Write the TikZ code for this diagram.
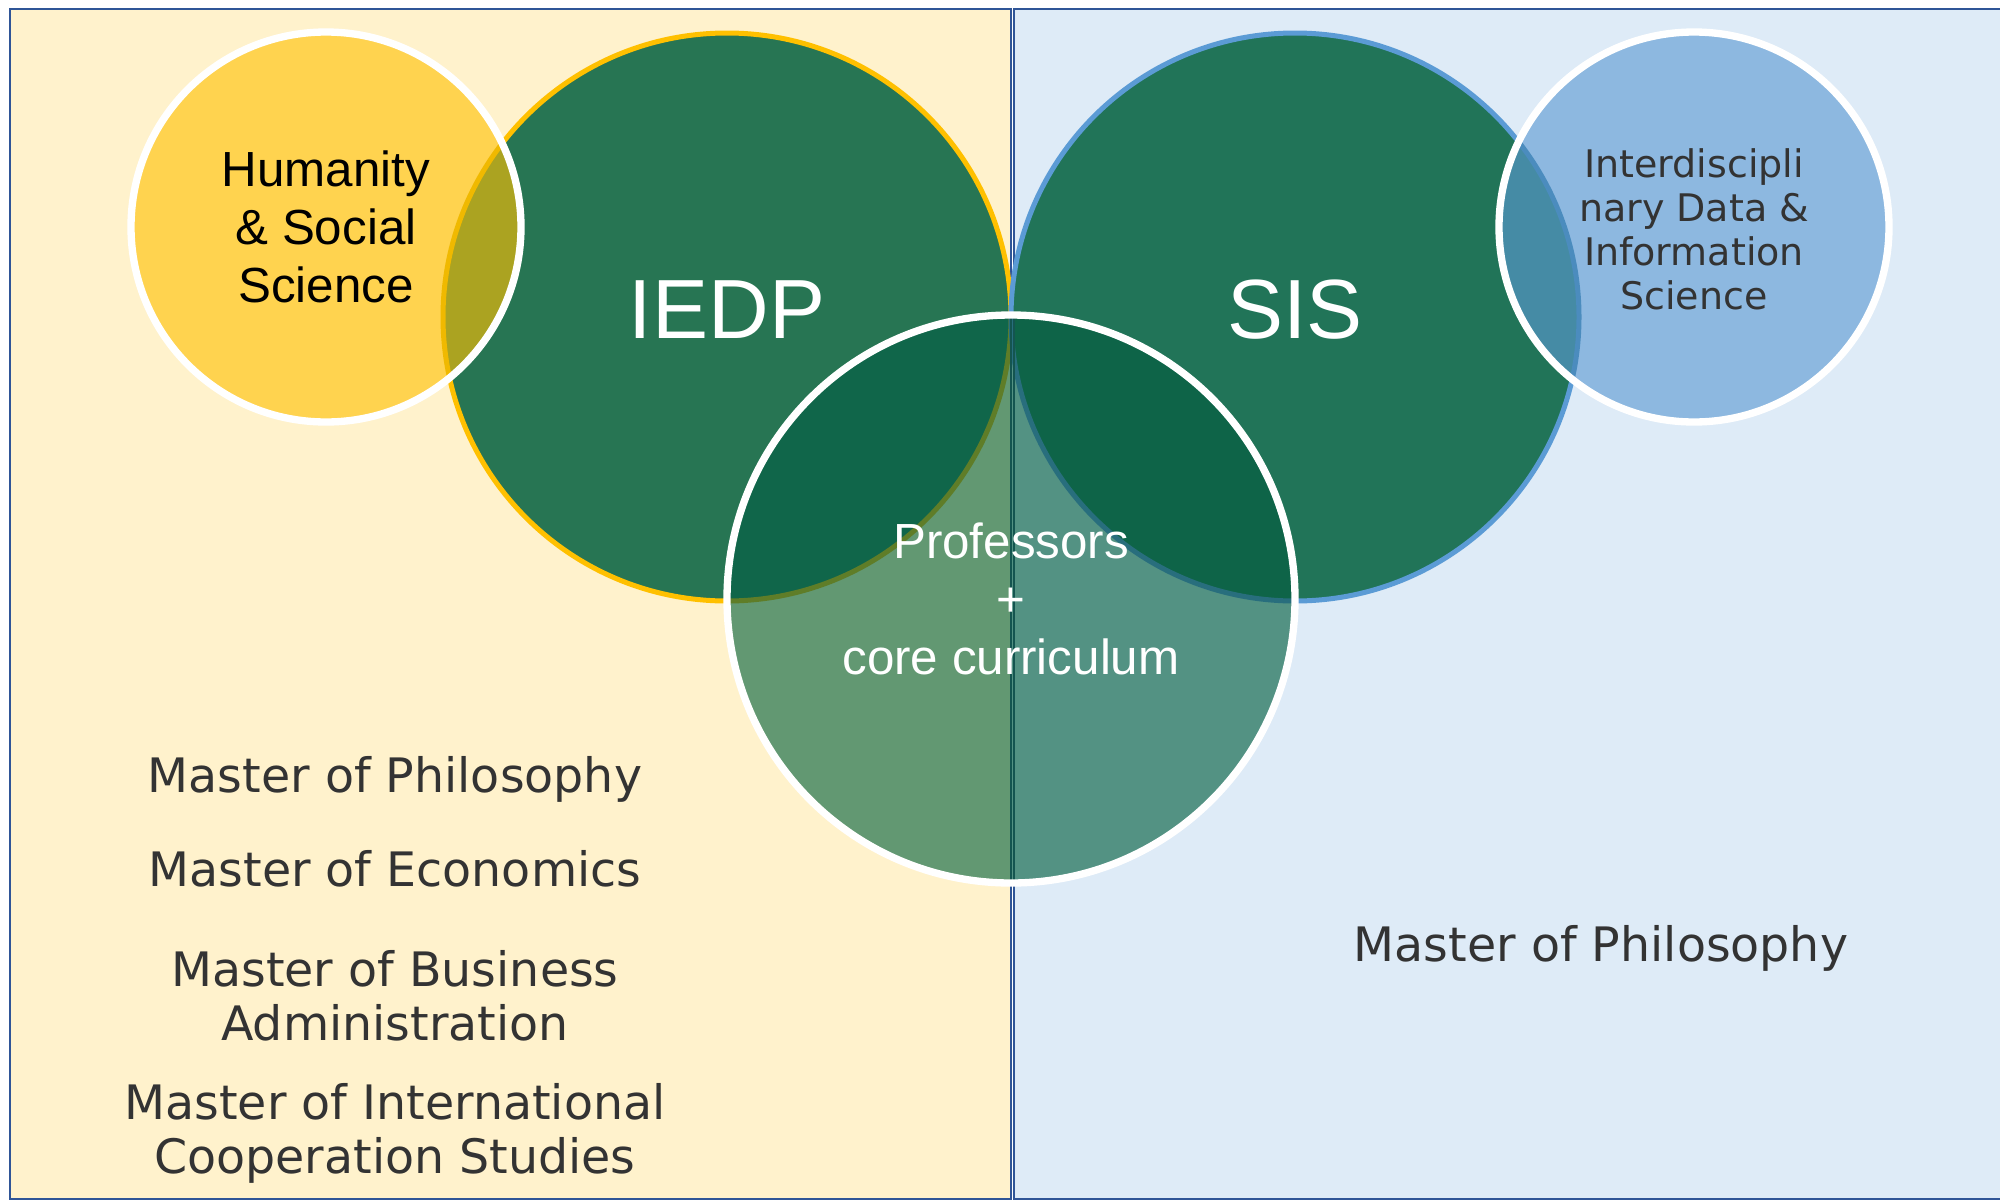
\documentclass[tikz,border=0pt]{standalone}
\usepackage{fontspec}
\setmainfont{DejaVu Sans}
\newfontfamily\arialfont{Liberation Sans}
\begin{document}
\begin{tikzpicture}[x=0.75pt,y=0.75pt,yscale=-1,xscale=1,
  degree/.style={font=\fontsize{35.6}{40.5}\selectfont, color={rgb, 255:red, 51; green, 51; blue, 51 }, align=center, inner sep=0.75pt},
  ring/.style={draw={rgb, 255:red, 255; green, 255; blue, 255 }, line width=5.5},
  whitetext/.style={font=\arialfont\fontsize{37}{43.5}\selectfont, color={rgb, 255:red, 255; green, 255; blue, 255 }, align=center, inner sep=0.75pt},
  bigtext/.style={font=\arialfont\fontsize{63}{70}\selectfont, color={rgb, 255:red, 255; green, 255; blue, 255 }, inner sep=0.75pt}]
\useasboundingbox (0,0) rectangle (2000,1200);

%Shape: Rectangle [id:left]
\draw  [color={rgb, 255:red, 47; green, 85; blue, 151 }  ,draw opacity=1 ][fill={rgb, 255:red, 255; green, 242; blue, 204 }  ,fill opacity=1 ][line width=1.2]  (10,9) rectangle (1011,1199) ;
%Shape: Rectangle [id:right]
\draw  [color={rgb, 255:red, 47; green, 85; blue, 151 }  ,draw opacity=1 ][fill={rgb, 255:red, 222; green, 235; blue, 247 }  ,fill opacity=1 ][line width=1.2]  (1014,9) rectangle (2006,1199) ;

%Shape: Circle [id:iedp]
\draw  [color={rgb, 255:red, 255; green, 192; blue, 0 }  ,draw opacity=1 ][fill={rgb, 255:red, 39; green, 117; blue, 83 }  ,fill opacity=1 ][line width=3.75]  (727,317) circle (284) ;
%Shape: Circle [id:sis]
\draw  [color={rgb, 255:red, 91; green, 155; blue, 213 }  ,draw opacity=1 ][fill={rgb, 255:red, 33; green, 116; blue, 88 }  ,fill opacity=1 ][line width=3.75]  (1295,317) circle (284) ;

%Shape: Circle [id:hss]
\fill [color={rgb, 255:red, 255; green, 211; blue, 79 }]  (326,227) circle (195) ;
\begin{scope}
\clip (326,227) circle (195) ;
\fill [color={rgb, 255:red, 171; green, 163; blue, 33 }]  (727,317) circle (284) ;
\draw [color={rgb, 255:red, 240; green, 185; blue, 0 }  ,line width=3.75]  (727,317) circle (284) ;
\end{scope}
\draw [ring]  (326,227) circle (195) ;

%Shape: Circle [id:ids]
\fill [color={rgb, 255:red, 141; green, 184; blue, 224 }]  (1694,227) circle (195) ;
\begin{scope}
\clip (1694,227) circle (195) ;
\fill [color={rgb, 255:red, 69; green, 139; blue, 165 }]  (1295,317) circle (284) ;
\draw [color={rgb, 255:red, 75; green, 140; blue, 190 }  ,line width=3.75]  (1295,317) circle (284) ;
\end{scope}
\draw [ring]  (1694,227) circle (195) ;

%Shape: Circle [id:core]
\begin{scope}
\clip (1011,599) circle (284) ;
\fill [color={rgb, 255:red, 98; green, 152; blue, 114 }]  (0,0) rectangle (1012,1200) ;
\fill [color={rgb, 255:red, 83; green, 146; blue, 131 }]  (1012,0) rectangle (2000,1200) ;
\fill [color={rgb, 255:red, 16; green, 102; blue, 74 }]  (727,317) circle (284) ;
\fill [color={rgb, 255:red, 14; green, 100; blue, 72 }]  (1295,317) circle (284) ;
\draw [color={rgb, 255:red, 95; green, 125; blue, 40 }  ,line width=3.75]  (727,317) circle (284) ;
\draw [color={rgb, 255:red, 40; green, 110; blue, 125 }  ,line width=3.75]  (1295,317) circle (284) ;
\draw [color={rgb, 255:red, 20; green, 85; blue, 80 }  ,line width=1.2]  (1011,0) -- (1011,1200) ;
\draw [color={rgb, 255:red, 20; green, 85; blue, 80 }  ,line width=1.2]  (1014,0) -- (1014,1200) ;
\end{scope}
\draw [ring]  (1011,599) circle (284) ;

% Text Node
\draw (326,227) node (hsslbl) [whitetext, color={rgb, 255:red, 0; green, 0; blue, 0 }] {Humanity\\\& Social\\Science};
% Text Node
\draw (727,310) node (iedplbl) [bigtext] {IEDP};
% Text Node
\draw (1295,310) node (sislbl) [bigtext] {SIS};
% Text Node
\draw (1694,229) node (idslbl) [degree, font=\fontsize{28.5}{33}\selectfont] {Interdiscipli\\nary Data \&\\Information\\Science};
% Text Node
\draw (1011,599) node (corelbl) [whitetext] {Professors\\+\\core curriculum};

% Text Node
\draw (395,779) node (mphilL) [degree] {Master of Philosophy};
% Text Node
\draw (395,869) node (mecon) [degree] {Master of Economics};
% Text Node
\draw (395,996) node (mba) [degree] {Master of Business\\Administration};
% Text Node
\draw (395,1133) node (mics) [degree] {Master of International\\Cooperation Studies};
% Text Node
\draw (1601,948) node (mphilR) [degree] {Master of Philosophy};

\end{tikzpicture}
\end{document}
